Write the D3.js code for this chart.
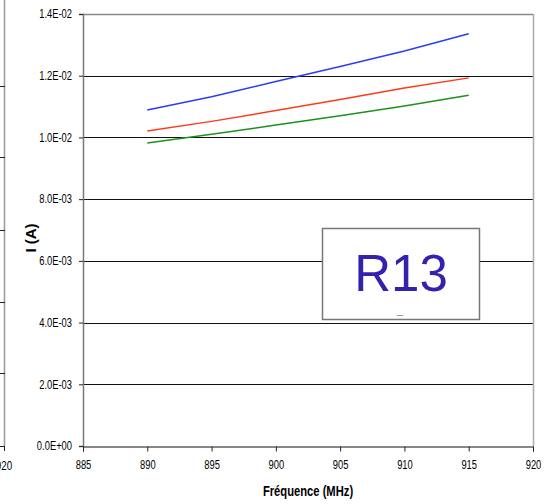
<!DOCTYPE html>
<html>
<head>
<meta charset="utf-8">
<script src="https://cdn.jsdelivr.net/npm/d3@7"></script>
<style>
  body { margin: 0; background: #fff; }
  text { font-family: "Liberation Sans", Arial, sans-serif; }
</style>
</head>
<body>
<div class="chart"></div>
<script>
/* data */
const freq = [890, 895, 900, 905, 910, 915];
const blueI = [10.89e-3, 11.32e-3, 11.81e-3, 12.30e-3, 12.80e-3, 13.36e-3];
const redI = [10.21e-3, 10.52e-3, 10.87e-3, 11.23e-3, 11.60e-3, 11.93e-3];
const greenI = [9.82e-3, 10.10e-3, 10.40e-3, 10.70e-3, 11.02e-3, 11.37e-3];
const xTicks = [885, 890, 895, 900, 905, 910, 915, 920];
const yTicks = [0, 2e-3, 4e-3, 6e-3, 8e-3, 10e-3, 12e-3, 14e-3];
const yTickLabels = ["0.0E+00", "2.0E-03", "4.0E-03", "6.0E-03", "8.0E-03", "1.0E-02", "1.2E-02", "1.4E-02"];

/* chart dimensions */
const width = 545, height = 504;
const margin = ({top: 14, right: 12, bottom: 58, left: 83});

const svg = d3.select('.chart')
  .append('svg')
  .attr("width", width)
  .attr("height", height);

/* squeeze text horizontally, like a narrow font */
function narrow(sel, k = 0.82) {
  sel.each(function() {
    const w = this.getComputedTextLength();
    d3.select(this)
      .attr("textLength", w * k)
      .attr("lengthAdjust", "spacingAndGlyphs");
  });
}

/* scales */
const xScale = d3.scaleLinear()
  .domain([885, 920])
  .range([margin.left, width - margin.right]);

const yScale = d3.scaleLinear()
  .domain([0, 0.014])
  .range([height - margin.bottom, margin.top]);

/* piece of the neighbouring chart cut off at the left edge */
const leftBits = svg.append("g");
leftBits.append("line")
  .attr("x1", 4.5).attr("x2", 4.5)
  .attr("y1", 0).attr("y2", yScale(0))
  .attr("stroke", "#999").attr("stroke-width", 1.5);
[86, 157, 230, 302, 373, 446].forEach(y => {
  leftBits.append("line")
    .attr("x1", 0).attr("x2", 5)
    .attr("y1", y + 0.5).attr("y2", y + 0.5)
    .attr("stroke", "#222");
});
leftBits.append("line")
  .attr("x1", 4.5).attr("x2", 4.5)
  .attr("y1", yScale(0)).attr("y2", yScale(0) + 5)
  .attr("stroke", "#222");
leftBits.append("text")
  .attr("x", 4).attr("y", yScale(0) + 24)
  .attr("text-anchor", "middle")
  .attr("font-size", 12)
  .text("920")
  .call(narrow);

/* gridlines */
svg.append("g")
  .selectAll("line")
  .data(yTicks.slice(1, -1))
  .join("line")
  .attr("x1", xScale(885))
  .attr("x2", xScale(920))
  .attr("y1", d => Math.round(yScale(d)) + 0.5)
  .attr("y2", d => Math.round(yScale(d)) + 0.5)
  .attr("stroke", "#111");

/* plot border top and right */
svg.append("line")
  .attr("x1", xScale(885)).attr("x2", xScale(920))
  .attr("y1", yScale(0.014) + 0.5).attr("y2", yScale(0.014) + 0.5)
  .attr("stroke", "#888").attr("stroke-width", 1.5);
svg.append("line")
  .attr("x1", xScale(920) + 0.5).attr("x2", xScale(920) + 0.5)
  .attr("y1", yScale(0.014)).attr("y2", yScale(0))
  .attr("stroke", "#aaa").attr("stroke-width", 1.5);

/* y axis */
const yAxis = d3.axisLeft(yScale)
  .tickValues(yTicks)
  .tickSize(4)
  .tickPadding(7)
  .tickFormat((d, i) => yTickLabels[i]);

svg.append("g")
  .attr("transform", `translate(${xScale(885)},0)`)
  .call(yAxis)
  .call(g => g.select(".domain").attr("stroke", "#777").attr("stroke-width", 1.5))
  .call(g => g.selectAll(".tick line").attr("stroke", "#222"))
  .call(g => g.selectAll(".tick text").attr("font-size", 12).attr("fill", "#000")
    .attr("font-family", "'Liberation Sans', Arial, sans-serif").call(narrow, 0.78));

/* x axis */
const xAxis = d3.axisBottom(xScale)
  .tickValues(xTicks)
  .tickSize(5)
  .tickPadding(9)
  .tickFormat(d3.format("d"));

svg.append("g")
  .attr("transform", `translate(0,${yScale(0) + 0.5})`)
  .call(xAxis)
  .call(g => g.select(".domain").attr("stroke", "#111"))
  .call(g => g.selectAll(".tick line").attr("stroke", "#222"))
  .call(g => g.selectAll(".tick text").attr("font-size", 12).attr("fill", "#000")
    .attr("font-family", "'Liberation Sans', Arial, sans-serif").call(narrow, 0.78));

/* axis titles */
svg.append("text")
  .attr("x", 308)
  .attr("y", 496)
  .attr("text-anchor", "middle")
  .attr("font-weight", "bold")
  .attr("font-size", 14)
  .text("Fréquence (MHz)")
  .call(narrow, 0.8);

svg.append("text")
  .attr("transform", "translate(36,238) rotate(-90)")
  .attr("text-anchor", "middle")
  .attr("font-weight", "bold")
  .attr("font-size", 15)
  .text("I (A)");

/* series lines */
const series = [
  {values: blueI, color: "#2a3cf5"},
  {values: redI, color: "#ff3a1a"},
  {values: greenI, color: "#1c921c"}
];

const line = d3.line()
  .x(d => xScale(d[0]))
  .y(d => yScale(d[1]));

svg.append("g")
  .selectAll("path")
  .data(series)
  .join("path")
  .attr("d", s => line(freq.map((f, i) => [f, s.values[i]])))
  .attr("fill", "none")
  .attr("stroke", s => s.color)
  .attr("stroke-width", 1.5);

/* label box */
const box = svg.append("g");
box.append("rect")
  .attr("x", 322.5).attr("y", 228.5)
  .attr("width", 157).attr("height", 91)
  .attr("fill", "#fff")
  .attr("stroke", "#777").attr("stroke-width", 1.5);
box.append("text")
  .attr("x", 401).attr("y", 291)
  .attr("text-anchor", "middle")
  .attr("font-family", "'Liberation Sans', Arial, sans-serif")
  .attr("font-size", 51)
  .attr("fill", "#3322b0")
  .text("R13");
box.append("line")
  .attr("x1", 397).attr("x2", 403)
  .attr("y1", 315.5).attr("y2", 315.5)
  .attr("stroke", "#999");
</script>
</body>
</html>
